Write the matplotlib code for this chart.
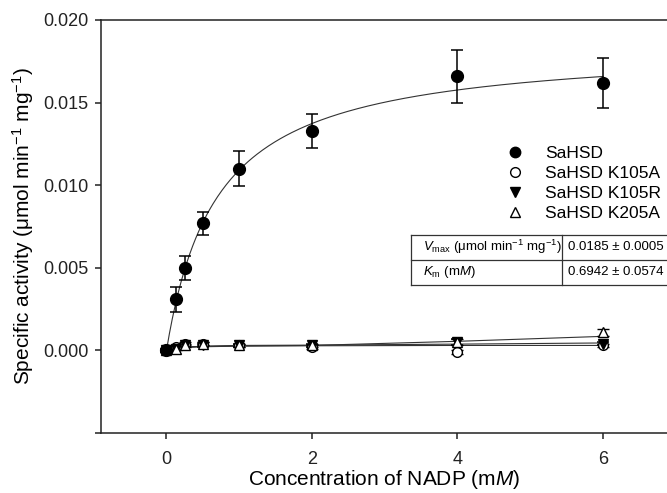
import numpy as np
import matplotlib
matplotlib.use('Agg')
import matplotlib.pyplot as plt
from matplotlib.lines import Line2D

plt.rcParams['font.family'] = ['Liberation Sans', 'DejaVu Sans']
plt.rcParams['mathtext.fontset'] = 'custom'
plt.rcParams['mathtext.rm'] = 'Liberation Sans'
plt.rcParams['mathtext.it'] = 'Liberation Sans:italic'

# concentration of NADP (mM)
nadp = [0, 0.125, 0.25, 0.5, 1, 2, 4, 6]

# wild type
sahsd = [0.0, 0.0031, 0.0050, 0.0077, 0.0110, 0.0133, 0.0166, 0.0162]
sahsd_err = [0.0, 0.00075, 0.00073, 0.0007, 0.00107, 0.00103, 0.0016, 0.0015]

# mutants
k105a = [0.0, 0.0002, 0.0004, 0.0004, 0.0003, 0.0002, -0.0001, 0.0003]
k105a_err = [0.0001, 0.0001, 0.0001, 0.0001, 0.0001, 0.0001, 0.0001, 0.0001]
k105r = [0.0, 0.0001, 0.0003, 0.0003, 0.0003, 0.0003, 0.0005, 0.0004]
k105r_err = [0.0001, 0.0001, 0.0001, 0.0001, 0.0001, 0.0001, 0.0002, 0.0001]
k205a = [0.0, 0.0001, 0.0003, 0.0004, 0.0003, 0.0003, 0.0005, 0.0011]
k205a_err = [0.0001, 0.0001, 0.0001, 0.0001, 0.0001, 0.0001, 0.0002, 0.0002]

# fitted lines of the mutants
k105a_fit = [0, 0.00012, 0.0002, 0.00025, 0.00027, 0.00028, 0.0003, 0.0003]
k105r_fit = [0, 0.00012, 0.0002, 0.00025, 0.0003, 0.00032, 0.00038, 0.00045]
k205a_fit = [0, 0.0001, 0.00018, 0.00022, 0.00026, 0.0003, 0.00055, 0.00085]

# Michaelis-Menten parameters of SaHSD
vmax, vmax_sd = 0.0185, 0.0005
km, km_sd = 0.6942, 0.0574

W, H = 667, 493
fig = plt.figure(figsize=(W / 100, H / 100), dpi=100)
ax = fig.add_axes([100.7 / W, 1 - 433 / H, 1 - 100.7 / W, (433 - 20) / H])

# fit lines
xs = np.linspace(0, 6, 300)
ax.plot(xs, vmax * xs / (km + xs), color='#333333', lw=0.8, zorder=2)
for fit in (k105a_fit, k105r_fit, k205a_fit):
	ax.plot(nadp, fit, color='#333333', lw=0.8, zorder=2)

ebk = dict(ecolor='black', elinewidth=1.1, capsize=4.5, capthick=1.1, ls='none')
ax.errorbar(nadp, k105a, yerr=k105a_err, marker='o', ms=7, mfc='white', mec='black', mew=1.0, zorder=3, **ebk)
ax.errorbar(nadp, k105r, yerr=k105r_err, marker='v', ms=7, mfc='black', mec='black', zorder=3, **ebk)
ax.errorbar(nadp, k205a, yerr=k205a_err, marker='^', ms=7, mfc='white', mec='black', mew=1.0, zorder=3, **ebk)
ax.errorbar(nadp, sahsd, yerr=sahsd_err, marker='o', ms=8.5, mfc='black', mec='black', zorder=4, **ebk)

ax.set_xlim(-0.904, 6.88)
ax.set_ylim(-0.005, 0.020)
ax.set_xticks([0, 2, 4, 6])
ax.set_yticks([-0.005, 0.0, 0.005, 0.010, 0.015, 0.020])
ax.set_yticklabels(['', '0.000', '0.005', '0.010', '0.015', '0.020'])
ax.tick_params(direction='out', length=4, width=1.1, labelsize=13, colors='#222222', pad=5)
ax.tick_params(axis='x', pad=9)
ax.spines['right'].set_visible(False)
for s in ('left', 'bottom', 'top'):
	ax.spines[s].set_linewidth(1.1)
	ax.spines[s].set_color('#222222')

ax.set_xlabel('Concentration of NADP (m$\\it{M}$)', fontsize=15, labelpad=0)
ax.set_ylabel('Specific activity (μmol min$^{-1}$ mg$^{-1}$)', fontsize=15, labelpad=5)

handles = [
	Line2D([], [], ls='none', marker='o', ms=7.5, mfc='black', mec='black'),
	Line2D([], [], ls='none', marker='o', ms=7, mfc='white', mec='black'),
	Line2D([], [], ls='none', marker='v', ms=7, mfc='black', mec='black'),
	Line2D([], [], ls='none', marker='^', ms=7, mfc='white', mec='black'),
]
labels = ['SaHSD', 'SaHSD K105A', 'SaHSD K105R', 'SaHSD K205A']
ax.legend(handles, labels, frameon=False, fontsize=12.5, loc='upper left',
	bbox_to_anchor=(493 / W, 1 - 137 / H), bbox_transform=fig.transFigure,
	handletextpad=1.0, labelspacing=0.29, borderpad=0, handlelength=1.5)

# parameter table
def fx(px):
	return px / W

def fy(py):
	return 1 - py / H

tl, tm, tr = 411, 562, 700
rows = [234.5, 259.7, 285]
for y in rows:
	fig.add_artist(Line2D([fx(tl), fx(tr)], [fy(y), fy(y)], color='#333333', lw=0.9))
for x in (tl, tm):
	fig.add_artist(Line2D([fx(x), fx(x)], [fy(rows[0]), fy(rows[-1])], color='#333333', lw=0.9))
cells = [
	('$V_{\\rm max}$ (μmol min$^{-1}$ mg$^{-1}$)', '%.4f ± %.4f' % (vmax, vmax_sd)),
	('$K_{\\rm m}$ (m$\\it{M}$)', '%.4f ± %.4f' % (km, km_sd)),
]
for i, (a, b) in enumerate(cells):
	yc = (rows[i] + rows[i + 1]) / 2
	fig.text(fx(tl + 12), fy(yc), a, fontsize=9.5, va='center', ha='left')
	fig.text(fx(tm + 6), fy(yc), b, fontsize=9.5, va='center', ha='left')

fig.savefig('out.png', dpi=100)
